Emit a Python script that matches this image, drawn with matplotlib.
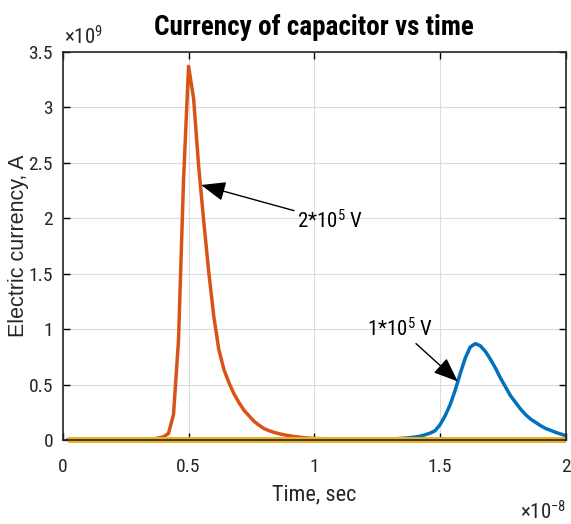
import matplotlib
matplotlib.use('Agg')
import matplotlib.pyplot as plt

plt.rcParams['font.family'] = ['Roboto Condensed', 'Liberation Sans', 'DejaVu Sans']
plt.rcParams['mathtext.fontset'] = 'custom'
plt.rcParams['mathtext.rm'] = 'Roboto Condensed'
plt.rcParams['mathtext.it'] = 'Roboto Condensed'

# time in units of 1e-8 s, current in units of 1e9 A
t_orange = [0.02, 0.1, 0.2, 0.3, 0.36, 0.38, 0.40, 0.42, 0.44, 0.46, 0.48, 0.50,
            0.52, 0.54, 0.56, 0.58, 0.60, 0.62, 0.64, 0.66, 0.68, 0.70, 0.72, 0.74,
            0.76, 0.78, 0.80, 0.82, 0.84, 0.86, 0.88, 0.90, 0.92, 0.94, 0.96, 0.98,
            1.00, 1.1, 1.2, 1.4, 1.6, 1.8, 2.0]
i_orange = [0.0, 0.0, 0.0, 0.002, 0.01, 0.02, 0.03, 0.06, 0.23, 0.90, 2.35, 3.37,
            3.08, 2.47, 1.98, 1.52, 1.12, 0.82, 0.64, 0.52, 0.42, 0.34, 0.27, 0.22,
            0.17, 0.135, 0.105, 0.085, 0.07, 0.058, 0.048, 0.04, 0.033, 0.027, 0.022, 0.018,
            0.015, 0.008, 0.004, 0.001, 0.0, 0.0, 0.0]

t_blue = [0.02, 0.5, 1.0, 1.2, 1.30, 1.32, 1.34, 1.36, 1.38, 1.40, 1.42, 1.44, 1.46, 1.48,
          1.50, 1.52, 1.54, 1.56, 1.58, 1.60, 1.62, 1.64, 1.66, 1.68, 1.70,
          1.72, 1.74, 1.76, 1.78, 1.80, 1.82, 1.84, 1.86, 1.88, 1.90,
          1.92, 1.94, 1.96, 1.98, 2.00]
i_blue = [0.0, 0.0, 0.001, 0.005, 0.010, 0.012, 0.015, 0.018, 0.023, 0.028, 0.036, 0.048, 0.063, 0.085,
          0.14, 0.22, 0.32, 0.45, 0.60, 0.74, 0.84, 0.87, 0.85, 0.80, 0.73,
          0.65, 0.56, 0.48, 0.40, 0.34, 0.28, 0.23, 0.19, 0.16, 0.13,
          0.105, 0.088, 0.07, 0.055, 0.04]

t_yellow = [0.02, 2.0]
i_yellow = [0.0, 0.0]

fig = plt.figure(figsize=(5.71, 5.24), dpi=100)
ax = fig.add_axes([0.110, 0.160, 0.881, 0.741])

ax.plot(t_blue, i_blue, color='#0072BD', lw=2.5, solid_joinstyle='round')
ax.plot(t_orange, i_orange, color='#D95319', lw=2.5, solid_joinstyle='round')
ax.plot(t_yellow, i_yellow, color='#EDB120', lw=4.3, solid_capstyle='butt', clip_on=False)

ax.set_xlim(0, 2)
ax.set_ylim(0, 3.5)
ax.set_xticks([0, 0.5, 1, 1.5, 2])
ax.set_xticklabels(['0', '0.5', '1', '1.5', '2'])
ax.set_yticks([0, 0.5, 1, 1.5, 2, 2.5, 3, 3.5])
ax.set_yticklabels(['0', '0.5', '1', '1.5', '2', '2.5', '3', '3.5'])
ax.grid(True, color='#dcdcdc', lw=0.8)
ax.set_axisbelow(True)
ax.tick_params(direction='in', top=True, right=True, length=5, width=1,
               labelsize=14, labelcolor='#262626')
ax.tick_params(axis='x', pad=13)
ax.tick_params(axis='y', pad=7)
for s in ax.spines.values():
    s.set_color('#262626')
    s.set_linewidth(1.2)

ax.set_title('Currency of capacitor vs time', fontsize=19.5, fontweight='bold', pad=12)
ax.set_xlabel('Time, sec', fontsize=16, color='#262626')
ax.xaxis.set_label_coords(0.5, -0.115)
ax.set_ylabel('Electric currency, A', fontsize=15.5, color='#262626',
              family=['Liberation Sans', 'DejaVu Sans'])
ax.yaxis.set_label_coords(-0.068, 0.5)

ax.text(0.003, 1.008, '×10$^{9}$', transform=ax.transAxes, fontsize=15,
        color='#262626', ha='left', va='bottom')
ax.text(1.0, -0.155, '×10$^{-8}$', transform=ax.transAxes, fontsize=15,
        color='#262626', ha='right', va='top')

arrow = dict(arrowstyle='-|>,head_length=1.0,head_width=0.4', color='k', lw=1,
             shrinkA=0, shrinkB=0)
ax.annotate('2*10$^5$ V', xy=(0.55, 2.3), xytext=(0.93, 1.98), fontsize=15,
            ha='left', va='center', arrowprops=arrow)
ax.annotate('1*10$^5$ V', xy=(1.57, 0.53), xytext=(1.21, 1.0), fontsize=15,
            ha='left', va='center', arrowprops=arrow)

fig.savefig('out.png', dpi=100)
